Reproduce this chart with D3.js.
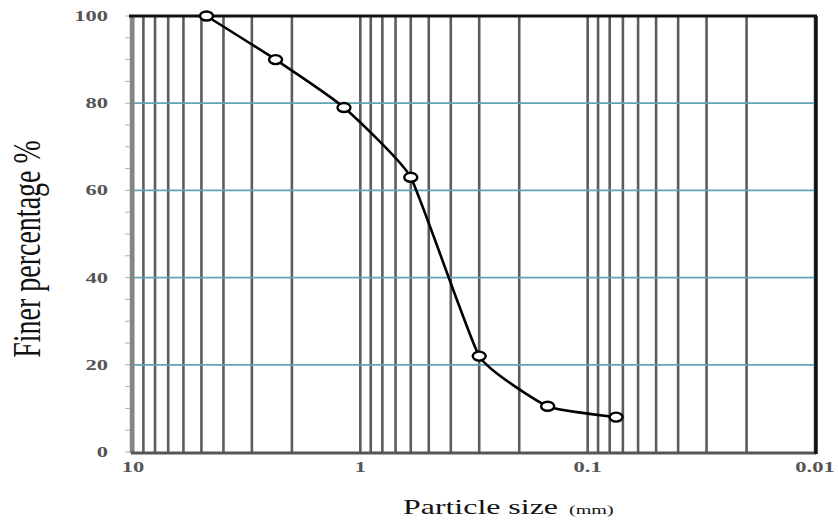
<!DOCTYPE html>
<html>
<head>
<meta charset="utf-8">
<script src="https://cdn.jsdelivr.net/npm/d3@7"></script>
<style>
  html, body { margin: 0; padding: 0; background: #fff; }
  svg { display: block; }
  text { font-family: "Liberation Serif", "Times New Roman", serif; }
</style>
</head>
<body>
<svg id="chart" width="838" height="525"></svg>
<script>
// Sieve analysis: particle size (mm) vs. percent finer
const sizes = [4.75, 2.36, 1.18, 0.6, 0.3, 0.15, 0.075];
const finer = [100, 90, 79, 63, 22, 10.5, 8];

const xTickValues = [10, 1, 0.1, 0.01];
const xTickLabels = ["10", "1", "0.1", "0.01"];
const yTickValues = [0, 20, 40, 60, 80, 100];
const yMinorValues = d3.range(0, 101, 5);

const svg = d3.select("#chart");
const plotLeft = 133, plotRight = 815, plotTop = 16, plotBottom = 452;

// reversed log axis: coarse on the left, fine on the right
const x = d3.scaleLog().domain([10, 0.01]).range([plotLeft, plotRight]);
const y = d3.scaleLinear().domain([0, 100]).range([plotBottom, plotTop]);

// horizontal stretch applied to all lettering
const SX = 1.5;

// vertical log grid (1..9 in each decade)
svg.append("g")
  .selectAll("line")
  .data(x.ticks())
  .join("line")
  .attr("x1", d => x(d)).attr("x2", d => x(d))
  .attr("y1", plotTop).attr("y2", plotBottom)
  .attr("stroke", "#5c5c5c")
  .attr("stroke-width", 2.6);

// horizontal grid
svg.append("g")
  .selectAll("line")
  .data(yTickValues.filter(v => v > 0 && v < 100))
  .join("line")
  .attr("x1", plotLeft).attr("x2", plotRight)
  .attr("y1", d => y(d)).attr("y2", d => y(d))
  .attr("stroke", "#62a3b5")
  .attr("stroke-width", 1.7);

// y minor ticks
svg.append("g")
  .selectAll("line")
  .data(yMinorValues)
  .join("line")
  .attr("x1", plotLeft - 8).attr("x2", plotLeft)
  .attr("y1", d => y(d)).attr("y2", d => y(d))
  .attr("stroke", "#b0b0b0")
  .attr("stroke-width", 1);

// frame: grey left/bottom axes, black top/right borders
svg.append("line")
  .attr("x1", plotLeft - 1).attr("x2", plotLeft - 1)
  .attr("y1", plotTop).attr("y2", plotBottom + 1)
  .attr("stroke", "#858585").attr("stroke-width", 4.5);
svg.append("line")
  .attr("x1", plotLeft - 2).attr("x2", plotRight + 1)
  .attr("y1", plotBottom + 1).attr("y2", plotBottom + 1)
  .attr("stroke", "#555").attr("stroke-width", 3);
svg.append("line")
  .attr("x1", plotLeft - 4).attr("x2", plotRight + 2)
  .attr("y1", plotTop).attr("y2", plotTop)
  .attr("stroke", "#111").attr("stroke-width", 3);
svg.append("line")
  .attr("x1", plotRight + 1).attr("x2", plotRight + 1)
  .attr("y1", plotTop).attr("y2", plotBottom + 2)
  .attr("stroke", "#111").attr("stroke-width", 3.5);

// y tick labels
svg.append("g")
  .selectAll("g")
  .data(yTickValues)
  .join("g")
  .attr("transform", d => `translate(108,${y(d) + 5}) scale(${SX},1)`)
  .append("text")
  .attr("text-anchor", "end")
  .attr("font-size", 15)
  .attr("font-weight", "bold")
  .attr("fill", "#555")
  .text(d => d);

// x tick labels
svg.append("g")
  .selectAll("g")
  .data(xTickValues)
  .join("g")
  .attr("transform", d => `translate(${x(d)},472) scale(${SX},1)`)
  .append("text")
  .attr("text-anchor", "middle")
  .attr("font-size", 15)
  .attr("font-weight", "bold")
  .attr("fill", "#555")
  .text((d, i) => xTickLabels[i]);

// axis titles
svg.append("g").attr("transform", `translate(403,514) scale(1.45,1)`)
  .append("text")
  .attr("font-size", 22)
  .attr("fill", "#111")
  .text("Particle size");
svg.append("g").attr("transform", `translate(569,514) scale(1.55,1)`)
  .append("text")
  .attr("font-size", 13)
  .attr("fill", "#111")
  .text("(mm)");

svg.append("g")
  .attr("transform", `translate(40,249) scale(1.45,1) rotate(-90)`)
  .append("text")
  .attr("text-anchor", "middle")
  .attr("font-size", 28)
  .attr("fill", "#111")
  .text("Finer percentage %");

// grading curve
const pts = sizes.map((s, i) => [x(s), y(finer[i])]);
svg.append("path")
  .attr("d", d3.line().curve(d3.curveCardinal.tension(0.6))(pts))
  .attr("fill", "none")
  .attr("stroke", "#000")
  .attr("stroke-width", 2.6);

svg.append("g")
  .selectAll("ellipse")
  .data(pts)
  .join("ellipse")
  .attr("cx", d => d[0]).attr("cy", d => d[1])
  .attr("rx", 6.5).attr("ry", 4.5)
  .attr("fill", "#fff")
  .attr("stroke", "#000")
  .attr("stroke-width", 2.4);
</script>
</body>
</html>
